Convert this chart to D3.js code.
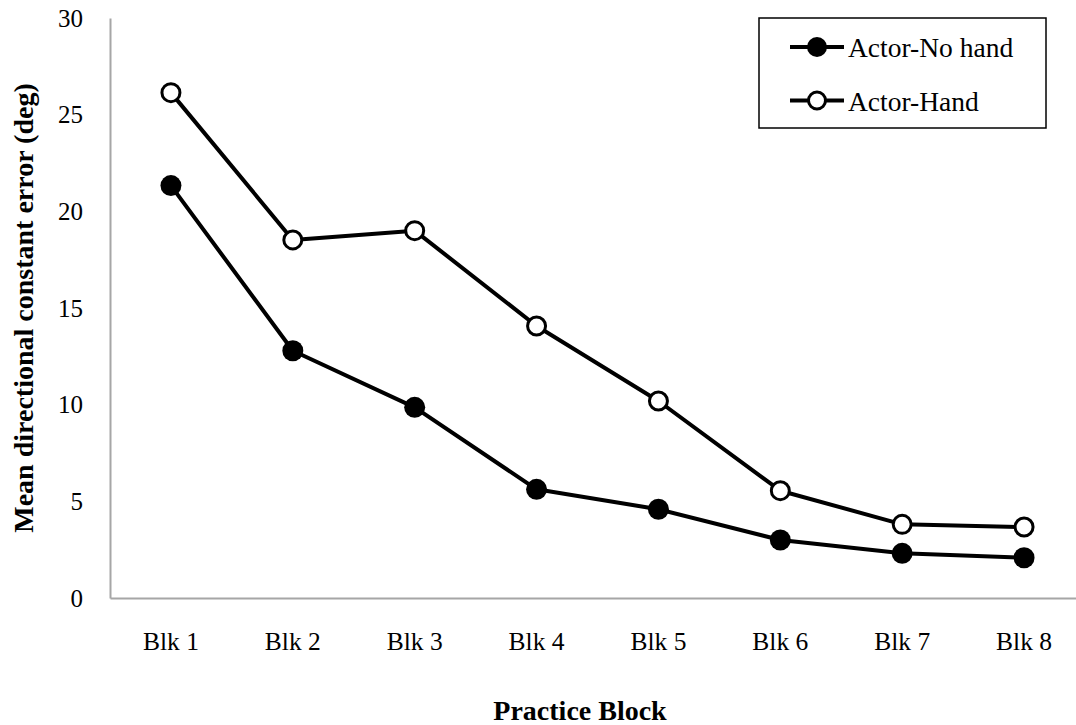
<!DOCTYPE html>
<html>
<head>
<meta charset="utf-8">
<script src="https://cdn.jsdelivr.net/npm/d3@7"></script>
<style>
  html, body { margin: 0; padding: 0; background: #fff; }
  svg { display: block; font-family: "Liberation Serif", serif; }
</style>
</head>
<body>
<svg id="chart" width="1076" height="725"></svg>
<script>
// Practice block line chart — two actor conditions.

const BLOCKS = ['Blk 1', 'Blk 2', 'Blk 3', 'Blk 4', 'Blk 5', 'Blk 6', 'Blk 7', 'Blk 8'];
const NO_HAND = [21.33, 12.79, 9.86, 5.62, 4.59, 3.0, 2.31, 2.08];
const HAND = [26.14, 18.52, 19.0, 14.07, 10.19, 5.55, 3.81, 3.67];
const Y_TICKS = [0, 5, 10, 15, 20, 25, 30];
const SERIES_NAMES = ['Actor-No hand', 'Actor-Hand'];

const FONT = '"Liberation Serif", serif';
const INK = '#000';
const AXIS = '#a6a6a6';

const svg = d3.select('#chart');
const m = { top: 18, right: -9, bottom: 127, left: 110 };
const W = 1076, H = 725;

const x = d3.scaleBand().domain(BLOCKS).range([m.left, W - m.right]);
const y = d3.scaleLinear().domain([0, 30]).range([H - m.bottom, m.top]);
const cx = b => x(b) + x.bandwidth() / 2;

// axes
svg.append('g').attr('transform', `translate(${m.left},0)`)
  .call(d3.axisLeft(y).tickValues(Y_TICKS).tickSize(0).tickPadding(27))
  .call(g => g.select('.domain').attr('stroke', AXIS).attr('stroke-width', 2))
  .call(g => g.selectAll('text').attr('fill', INK).attr('dy', '0.33em')
    .style('font-family', FONT).style('font-size', '25px'));

svg.append('g').attr('transform', `translate(0,${y(0)})`)
  .call(d3.axisBottom(x).tickSize(0))
  .call(g => g.select('.domain').attr('stroke', AXIS).attr('stroke-width', 2))
  .call(g => g.selectAll('text').attr('fill', INK).attr('y', 52).attr('dy', 0)
    .style('font-family', FONT).style('font-size', '25.5px'));

// axis titles
svg.append('text')
  .attr('transform', `translate(33,${(y(0) + y(30)) / 2}) rotate(-90)`)
  .attr('text-anchor', 'middle').attr('fill', INK)
  .style('font-size', '28px').style('font-weight', 'bold')
  .text('Mean directional constant error (deg)');

svg.append('text')
  .attr('x', 580).attr('y', 720)
  .attr('text-anchor', 'middle').attr('fill', INK)
  .style('font-size', '28px').style('font-weight', 'bold')
  .text('Practice Block');

// series
const line = d3.line().x(d => cx(d.b)).y(d => y(d.v));
const series = [
  { name: SERIES_NAMES[0], values: NO_HAND, fill: INK },
  { name: SERIES_NAMES[1], values: HAND, fill: '#fff' }
];

series.forEach(s => {
  const pts = BLOCKS.map((b, i) => ({ b, v: s.values[i] }));
  svg.append('path').datum(pts)
    .attr('fill', 'none').attr('stroke', INK).attr('stroke-width', 4)
    .attr('stroke-linejoin', 'round').attr('d', line);
  svg.append('g').selectAll('circle').data(pts).join('circle')
    .attr('cx', d => cx(d.b)).attr('cy', d => y(d.v))
    .attr('r', s.fill === INK ? 10.5 : 9)
    .attr('fill', s.fill).attr('stroke', INK)
    .attr('stroke-width', s.fill === INK ? 0 : 3);
});

// legend
const lg = svg.append('g');
lg.append('rect').attr('x', 759).attr('y', 18).attr('width', 287).attr('height', 110)
  .attr('fill', '#fff').attr('stroke', INK).attr('stroke-width', 1.5);
series.forEach((s, i) => {
  const ly = 47 + i * 53.5;
  lg.append('line').attr('x1', 790).attr('x2', 844).attr('y1', ly).attr('y2', ly)
    .attr('stroke', INK).attr('stroke-width', 4);
  lg.append('circle').attr('cx', 817).attr('cy', ly)
    .attr('r', s.fill === INK ? 10 : 8.5)
    .attr('fill', s.fill).attr('stroke', INK)
    .attr('stroke-width', s.fill === INK ? 0 : 3);
  lg.append('text').attr('x', 848).attr('y', ly + 10).attr('fill', INK)
    .style('font-size', '27.5px').text(s.name);
});
</script>
</body>
</html>
